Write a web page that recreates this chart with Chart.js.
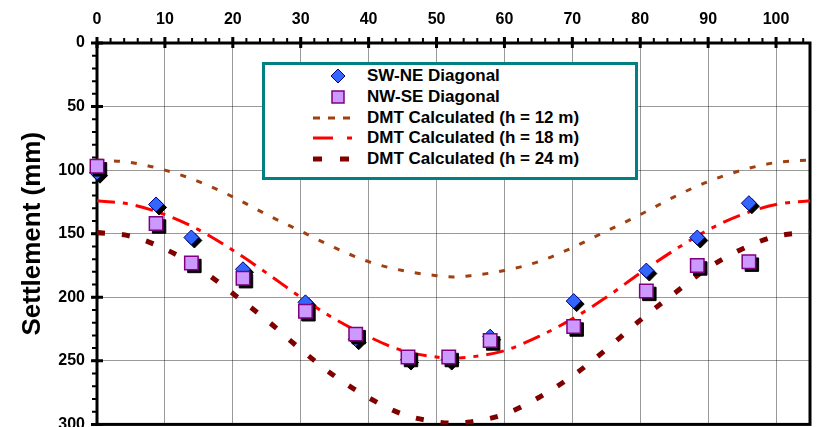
<!DOCTYPE html>
<html>
<head>
<meta charset="utf-8">
<script src="https://cdn.jsdelivr.net/npm/chart.js@4.4.1/dist/chart.umd.min.js"></script>
<style>
  html, body { margin: 0; padding: 0; background: #fff; overflow: hidden; }
  body { width: 821px; height: 427px; position: relative; font-family: Arial, "Liberation Sans", sans-serif; }
  #wrap { position: absolute; left: 0; top: 0; width: 821px; height: 446px; }
  #legend { position: absolute; left: 262px; top: 62px; width: 370px; height: 112px; border: 3px solid #008080; background: #fff; }
  .row { position: absolute; left: 0; height: 20px; width: 370px; }
  .row svg { position: absolute; left: 48px; top: 0; }
  .row span { position: absolute; left: 102px; top: 0; line-height: 20px; font-size: 17px; font-weight: bold; color: #000; white-space: nowrap; }
</style>
</head>
<body>
<div id="wrap"><canvas id="settleChart"></canvas></div>
<div id="legend">
  <div class="row" style="top:1px">
    <svg width="42" height="20"><polygon points="25,3 32,10 25,17 18,10" fill="#3366ff" stroke="#000080" stroke-width="1"/></svg>
    <span>SW-NE Diagonal</span>
  </div>
  <div class="row" style="top:22px">
    <svg width="42" height="20"><rect x="19" y="4" width="12" height="12" fill="#cc99ff" stroke="#800080" stroke-width="1.5"/></svg>
    <span>NW-SE Diagonal</span>
  </div>
  <div class="row" style="top:43px">
    <svg width="42" height="20"><line x1="0" y1="10" x2="42" y2="10" stroke="#a04010" stroke-width="3" stroke-dasharray="7 8"/></svg>
    <span>DMT Calculated (h = 12 m)</span>
  </div>
  <div class="row" style="top:63px">
    <svg width="42" height="20"><line x1="0" y1="10" x2="42" y2="10" stroke="#ff0000" stroke-width="3" stroke-dasharray="20 14 5 10"/></svg>
    <span>DMT Calculated (h = 18 m)</span>
  </div>
  <div class="row" style="top:84px">
    <svg width="42" height="20"><line x1="0" y1="10" x2="42" y2="10" stroke="#800000" stroke-width="5" stroke-dasharray="9 18"/></svg>
    <span>DMT Calculated (h = 24 m)</span>
  </div>
</div>
<script>
// measured positions along the diagonals (m) and settlements (mm)
const pointX = [0, 8.7, 13.9, 21.5, 30.7, 38.1, 45.8, 51.8, 57.9, 70.2, 80.9, 88.4, 96.0];
const swNe = [102, 127, 153, 178, 204, 233, 249, 249, 231, 203, 179, 153, 126];
const nwSe = [97, 142, 173, 185, 211, 229, 247, 247, 234, 223, 195, 175, 172];

// DMT calculated profiles
const curveX = [0, 5, 10, 15, 20, 25, 30, 35, 40, 45, 50, 52.5, 55, 60, 65, 70, 75, 80, 85, 90, 95, 100, 105];
const dmt12 = [92, 94, 100, 109, 121, 135, 148, 161, 172, 179, 183, 184, 183, 179, 172, 161, 148, 135, 121, 109, 100, 94, 92];
const dmt18 = [124, 127, 135, 147, 163, 181, 200, 217, 231, 242, 247, 248, 247, 242, 231, 217, 200, 181, 163, 147, 135, 127, 124];
const dmt24 = [149, 152, 162, 177, 197, 218, 241, 262, 279, 292, 298, 299, 298, 292, 279, 262, 241, 218, 197, 177, 162, 152, 149];

const xTicks = [0, 10, 20, 30, 40, 50, 60, 70, 80, 90, 100];
const yTicks = [0, 50, 100, 150, 200, 250, 300];

const FONT = "Arial, 'Liberation Sans', sans-serif";

function pairs(xs, ys) {
  return xs.map((x, i) => ({ x, y: ys[i] }));
}

// frame + major/minor ticks, drawn under the data
const framePlugin = {
  id: "frame",
  beforeDatasetsDraw(chart) {
    const { ctx, chartArea: a, scales } = chart;
    const x = scales.x;
    const y = scales.y;
    ctx.save();
    ctx.strokeStyle = "#000";
    ctx.lineWidth = 2;
    ctx.beginPath();
    for (let v = 0; v <= 105; v += 2) {
      const px = x.getPixelForValue(v);
      ctx.moveTo(px, a.top - 5);
      ctx.lineTo(px, a.top);
    }
    for (let v = 0; v <= 300; v += 10) {
      const py = y.getPixelForValue(v);
      ctx.moveTo(a.left - 5, py);
      ctx.lineTo(a.left, py);
    }
    ctx.stroke();
    ctx.lineWidth = 3;
    ctx.beginPath();
    xTicks.forEach((v) => {
      const px = x.getPixelForValue(v);
      ctx.moveTo(px, a.top - 6);
      ctx.lineTo(px, a.top + 5);
    });
    yTicks.forEach((v) => {
      const py = y.getPixelForValue(v);
      ctx.moveTo(a.left - 6, py);
      ctx.lineTo(a.left + 6, py);
    });
    ctx.stroke();
    ctx.strokeRect(a.left, a.top, a.right - a.left, a.bottom - a.top);
    ctx.restore();
  },
};

// offset black copies of the markers act as drop shadows
const shadowPlugin = {
  id: "shadow",
  beforeDatasetDraw(chart, args) {
    const ds = chart.data.datasets[args.index];
    if (ds.isShadow) {
      chart.ctx.save();
      chart.ctx.translate(3, 3);
    }
  },
  afterDatasetDraw(chart, args) {
    const ds = chart.data.datasets[args.index];
    if (ds.isShadow) chart.ctx.restore();
  },
};

const markerBase = { showLine: false, clip: false, borderWidth: 1 };
const lineBase = { showLine: true, pointRadius: 0, cubicInterpolationMode: "monotone", borderWidth: 3 };

new Chart(document.getElementById("settleChart"), {
  type: "scatter",
  data: {
    datasets: [
      { ...markerBase, label: "NW-SE Diagonal", data: pairs(pointX, nwSe), pointStyle: "rect", pointRadius: 9.5, backgroundColor: "#cc99ff", borderColor: "#800080", borderWidth: 1.5 },
      { ...markerBase, isShadow: true, data: pairs(pointX, nwSe), pointStyle: "rect", pointRadius: 9.5, backgroundColor: "#000", borderColor: "#000" },
      { ...markerBase, label: "SW-NE Diagonal", data: pairs(pointX, swNe), pointStyle: "rectRot", pointRadius: 7.5, backgroundColor: "#3366ff", borderColor: "#000080" },
      { ...markerBase, isShadow: true, data: pairs(pointX, swNe), pointStyle: "rectRot", pointRadius: 7.5, backgroundColor: "#000", borderColor: "#000" },
      { ...lineBase, label: "DMT Calculated (h = 12 m)", data: pairs(curveX, dmt12), borderColor: "#a04010", borderDash: [6, 11] },
      { ...lineBase, label: "DMT Calculated (h = 18 m)", data: pairs(curveX, dmt18), borderColor: "#ff0000", borderDash: [18, 8, 5, 8] },
      { ...lineBase, label: "DMT Calculated (h = 24 m)", data: pairs(curveX, dmt24), borderColor: "#800000", borderWidth: 5, borderDash: [8, 17] },
    ],
  },
  options: {
    responsive: true,
    maintainAspectRatio: false,
    animation: false,
    events: [],
    layout: { padding: { left: 0, right: 4, top: 0, bottom: 0 } },
    plugins: { legend: { display: false }, tooltip: { enabled: false } },
    scales: {
      x: {
        type: "linear",
        position: "top",
        min: 0,
        max: 105,
        afterFit: (s) => { s.height = 43; },
        afterBuildTicks: (s) => { s.ticks = xTicks.map((v) => ({ value: v })); },
        ticks: { color: "#000", font: { family: FONT, size: 16, weight: "bold" }, padding: 14 },
        grid: { color: "rgba(0,0,0,0.4)", lineWidth: 1, drawTicks: false },
        border: { display: false },
      },
      y: {
        type: "linear",
        reverse: true,
        min: 0,
        max: 300,
        afterFit: (s) => { s.width = 97; },
        afterBuildTicks: (s) => { s.ticks = yTicks.map((v) => ({ value: v })); },
        ticks: { color: "#000", font: { family: FONT, size: 16, weight: "bold" }, padding: 12 },
        grid: { color: "rgba(0,0,0,0.4)", lineWidth: 1, drawTicks: false },
        border: { display: false },
        title: { display: true, text: "Settlement (mm)", color: "#000", font: { family: FONT, size: 26, weight: "bold" }, padding: { top: 17, bottom: 0 } },
      },
    },
  },
  plugins: [framePlugin, shadowPlugin],
});
</script>
</body>
</html>
